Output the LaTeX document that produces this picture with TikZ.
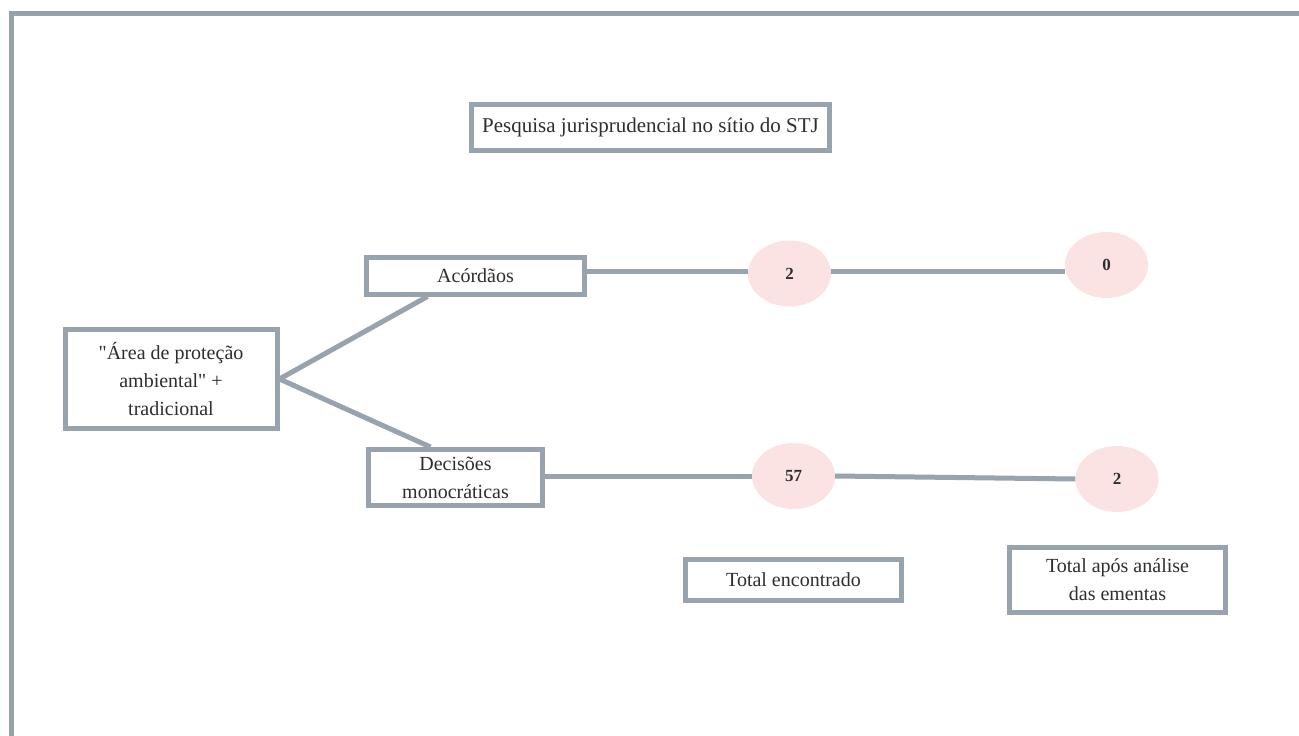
\documentclass[tikz,border=0pt]{standalone}
\usepackage{fontspec}
\setmainfont{Liberation Serif}
\newfontfamily\plainq{Liberation Serif}[Ligatures=TeXOff]
\usetikzlibrary{shapes.geometric}
\definecolor{framegray}{HTML}{97A1AA}
\definecolor{linegray}{HTML}{98A3AD}
\definecolor{pinkfill}{HTML}{FBE3E3}
\definecolor{txt}{HTML}{2E2E2E}
\tikzset{
  box/.style={draw=linegray, line width=5pt, fill=white, inner sep=0pt, align=center,
    text=txt, font=\fontsize{20}{28}\selectfont},
  count/.style={ellipse, fill=pinkfill, draw=none, inner sep=0pt,
    minimum width=83pt, minimum height=66pt, text=txt, font=\fontsize{17}{20}\selectfont\bfseries},
  conn/.style={draw=linegray, line width=5pt},
  framebar/.style={draw=framegray, line width=5pt}
}
\begin{document}
\begin{tikzpicture}[x=1pt,y=-1pt]
\useasboundingbox (0,0) rectangle (1299,736);
\fill[white] (0,0) rectangle (1299,736);
\coordinate (ftl) at (9,13.5);
\coordinate (ftr) at (1299,13.5);
\coordinate (flt) at (11.5,11);
\coordinate (flb) at (11.5,736);
\draw[framebar] (ftl) -- (ftr);
\draw[framebar] (flt) -- (flb);

\node[box, minimum width=358pt, minimum height=46pt, font=\fontsize{21}{26}\selectfont] (title) at (650.5,127.5) {Pesquisa jurisprudencial no sítio do STJ};

\node[box, minimum width=212pt, minimum height=99pt] (area) at (171,379) {{\plainq"}Área de proteção\\ambiental{\plainq"} +\\tradicional};
\node[box, minimum width=218pt, minimum height=37pt] (acord) at (475.5,275.5) {Acórdãos};
\node[box, minimum width=174pt, minimum height=56pt] (dec) at (455.5,477.5) {Decisões\\monocráticas};

\node[count] (e1) at (789.5,273.5) {2};
\node[count] (e0) at (1106.5,265) {0};
\node[count] (e57) at (793.5,476) {57};
\node[count] (e2) at (1117,479) {2};

\node[box, minimum width=216pt, minimum height=41pt] (totenc) at (793.5,580) {Total encontrado};
\node[box, minimum width=216pt, minimum height=65pt] (totapos) at (1117.5,580) {Total após análise\\das ementas};

\coordinate (jA) at ([yshift=1.8pt]e1.west);
\draw[conn] (area.east) -- ([xshift=-48pt]acord.south);
\draw[conn] (area.east) -- ([xshift=-25pt]dec.north);
\draw[conn] (acord.east |- jA) -- (jA);
\draw[conn] ([yshift=1.8pt]e1.east) -- ([yshift=1.8pt]e1.east -| e0.west);
\draw[conn] (dec.east |- e57.west) -- (e57.west);
\draw[conn] (e57.east) -- (e2.west);
\end{tikzpicture}
\end{document}
